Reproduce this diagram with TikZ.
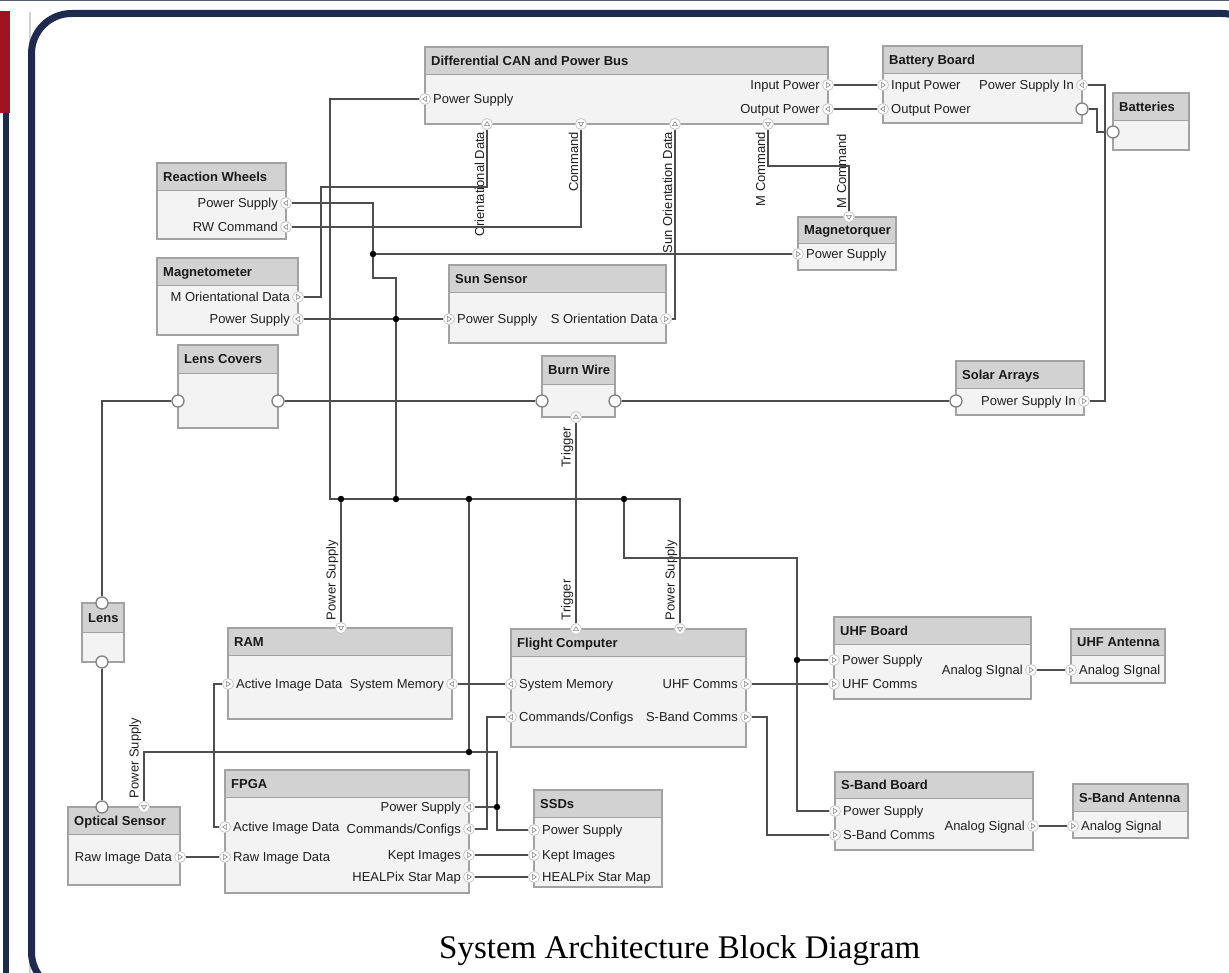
\documentclass[tikz,border=0pt]{standalone}
\usepackage{fontspec}
\setmainfont{Liberation Serif}
\newfontfamily\arial{Liberation Sans}
\usetikzlibrary{calc}

\definecolor{wire}{HTML}{4E4E4E}
\definecolor{hdr}{HTML}{D2D2D2}
\definecolor{bodyc}{HTML}{F3F3F3}
\definecolor{edgec}{HTML}{A2A2A2}
\definecolor{navy}{HTML}{1F2B4E}
\definecolor{crimson}{HTML}{9E1420}
\definecolor{portedge}{HTML}{C6C6C6}
\definecolor{tric}{HTML}{8A8A8A}
\definecolor{topline}{HTML}{56607A}

\tikzset{
  lbl/.style={font=\arial\fontsize{13}{15}\selectfont, text=black!88, inner sep=0pt},
  hdrtext/.style={font=\arial\bfseries\fontsize{13}{15}\selectfont, text=black!90, inner sep=0pt},
  vlbl/.style={lbl, rotate=90, inner sep=0.6pt},
  cn/.style={draw=wire, line width=1.4pt},
  portbase/.style={circle, draw=portedge, fill=white, line width=0.8pt, minimum size=11pt, inner sep=0pt},
  pr/.style={portbase, path picture={\draw[tric, line width=0.6pt, shift={(path picture bounding box.center)}]
      (-1.6pt,2.6pt) -- (2.4pt,0pt) -- (-1.6pt,-2.6pt) -- cycle;}},
  pl/.style={portbase, path picture={\draw[tric, line width=0.6pt, shift={(path picture bounding box.center)}]
      (1.6pt,2.6pt) -- (-2.4pt,0pt) -- (1.6pt,-2.6pt) -- cycle;}},
  pu/.style={portbase, path picture={\draw[tric, line width=0.6pt, shift={(path picture bounding box.center)}]
      (-2.6pt,-1.6pt) -- (0pt,2.4pt) -- (2.6pt,-1.6pt) -- cycle;}},
  pd/.style={portbase, path picture={\draw[tric, line width=0.6pt, shift={(path picture bounding box.center)}]
      (-2.6pt,1.6pt) -- (0pt,-2.4pt) -- (2.6pt,1.6pt) -- cycle;}},
  pc/.style={circle, draw=black!50, fill=white, line width=1.3pt, minimum size=12pt, inner sep=0pt},
  jdot/.style={circle, fill=black, minimum size=6.5pt, inner sep=0pt},
}

% block: name, x1, y1, x2, y2, header bottom, title
\newcommand\block[7]{%
  \fill[bodyc] (#2,#3) rectangle (#4,#5);
  \fill[hdr] (#2,#3) rectangle (#4,#6);
  \draw[edgec, line width=0.9pt] (#4,#6) -- (#2,#6);
  \draw[edgec, line width=1.2pt] (#2,#3) rectangle (#4,#5);
  \node[hdrtext, anchor=base west] (#1) at ({#2+6},{(#3+#6)/2+4.6}) {#7};
}
% port: style, name, x, y
\newcommand\port[4]{\node[#1] (#2) at (#3,#4) {};}
% port texts: left side / right side of a block
\newcommand\ltext[3]{\node[lbl, anchor=base west] at ({#1+8},{#2+4.6}) {#3};}
\newcommand\rtext[3]{\node[lbl, anchor=base east] at ({#1-8},{#2+4.6}) {#3};}

\begin{document}
\begin{tikzpicture}[x=1pt, y=-1pt]
\useasboundingbox (0,0) rectangle (1229,973);

% ---------- page frame ----------
\draw[topline, line width=1.5pt] (0,0.75) -- (1229,0.75);
\fill[navy] (3,113) rectangle (9,973);
\fill[crimson] (0,11) rectangle (10,113);
\draw[black!18, line width=2pt] (30,12) -- (30,973);
\draw[navy, line width=7pt, rounded corners=40pt] (31.5,13.5) rectangle (1262,992);

% ---------- blocks ----------
\block{can}{425}{47}{828}{124}{74}{Differential CAN and Power Bus}
\block{bat}{883}{46}{1082}{123}{73}{Battery Board}
\block{batt}{1113}{93}{1189}{150}{120}{Batteries}
\block{rw}{157}{163}{286}{239}{190}{Reaction Wheels}
\block{mag}{157}{258}{298}{335}{285}{Magnetometer}
\block{sun}{449}{265}{666}{343}{292}{Sun Sensor}
\block{mtq}{798}{217}{896}{270}{243}{Magnetorquer}
\block{lc}{178}{345}{278}{428}{373}{Lens Covers}
\block{bw}{542}{356}{615}{417}{384}{Burn Wire}
\block{sol}{956}{361}{1084}{415}{388}{Solar Arrays}
\block{lens}{82}{603}{124}{662}{632}{Lens}
\block{ram}{228}{628}{452}{719}{655}{RAM}
\block{fc}{511}{629}{746}{747}{656}{Flight Computer}
\block{uhf}{834}{617}{1031}{699}{644}{UHF Board}
\block{uhfa}{1071}{629}{1165}{683}{655}{UHF Antenna}
\block{sbb}{835}{772}{1033}{850}{798}{S-Band Board}
\block{sba}{1073}{784}{1188}{838}{811}{S-Band Antenna}
\block{opt}{68}{807}{180}{885}{834}{Optical Sensor}
\block{fpga}{225}{770}{469}{893}{797}{FPGA}
\block{ssd}{534}{790}{662}{887}{817}{SSDs}

% ---------- port texts ----------
\ltext{425}{99}{Power Supply}
\rtext{828}{85}{Input Power}
\rtext{828}{109}{Output Power}
\ltext{883}{85}{Input Power}
\ltext{883}{109}{Output Power}
\rtext{1082}{85}{Power Supply In}
\rtext{286}{203}{Power Supply}
\rtext{286}{227}{RW Command}
\rtext{298}{297}{M Orientational Data}
\rtext{298}{319}{Power Supply}
\ltext{449}{319}{Power Supply}
\rtext{666}{319}{S Orientation Data}
\ltext{798}{254}{Power Supply}
\rtext{1084}{401}{Power Supply In}
\ltext{228}{684}{Active Image Data}
\rtext{452}{684}{System Memory}
\ltext{511}{684}{System Memory}
\ltext{511}{717}{Commands/Configs}
\rtext{746}{684}{UHF Comms}
\rtext{746}{717}{S-Band Comms}
\ltext{834}{660}{Power Supply}
\ltext{834}{684}{UHF Comms}
\rtext{1031}{670}{Analog SIgnal}
\ltext{1071}{670}{Analog SIgnal}
\ltext{835}{811}{Power Supply}
\ltext{835}{835}{S-Band Comms}
\rtext{1033}{826}{Analog Signal}
\ltext{1073}{826}{Analog Signal}
\rtext{180}{857}{Raw Image Data}
\ltext{225}{827}{Active Image Data}
\ltext{225}{857}{Raw Image Data}
\rtext{469}{807}{Power Supply}
\rtext{469}{829}{Commands/Configs}
\rtext{469}{855}{Kept Images}
\rtext{469}{877}{HEALPix Star Map}
\ltext{534}{830}{Power Supply}
\ltext{534}{855}{Kept Images}
\ltext{534}{877}{HEALPix Star Map}

% ---------- rotated texts along the links ----------
\node[vlbl, anchor=south east] (t-od) at (485,131) {Orientational Data};
\node[vlbl, anchor=south east] (t-cmd) at (579,131) {Command};
\node[vlbl, anchor=south east] (t-sod) at (673,131) {Sun Orientation Data};
\node[vlbl, anchor=south east] (t-mc) at (766,131) {M Command};
\node[vlbl, anchor=south west] (t-mc2) at (847,209) {M Command};
\node[vlbl, anchor=south east] (t-trg) at (574,426) {Trigger};
\node[vlbl, anchor=south west] (t-trg2) at (574,621) {Trigger};
\node[vlbl, anchor=south west] (t-ps1) at (339,621) {Power Supply};
\node[vlbl, anchor=south west] (t-ps2) at (678,621) {Power Supply};
\node[vlbl, anchor=south west] (t-ps3) at (142,799) {Power Supply};

% ---------- ports (on the block edges) ----------
\port{pl}{can-ps}{425}{99}
\port{pr}{can-in}{828}{85}
\port{pl}{can-out}{828}{109}
\port{pu}{can-od}{487}{124}
\port{pd}{can-cmd}{581}{124}
\port{pu}{can-sod}{675}{124}
\port{pd}{can-mc}{768}{124}
\port{pr}{bat-in}{883}{85}
\port{pl}{bat-out}{883}{109}
\port{pl}{bat-psi}{1082}{85}
\port{pc}{bat-c}{1082}{109}
\port{pc}{batt-c}{1113}{132}
\port{pl}{rw-ps}{286}{203}
\port{pl}{rw-cmd}{286}{227}
\port{pr}{mag-od}{298}{297}
\port{pl}{mag-ps}{298}{319}
\port{pr}{sun-ps}{449}{319}
\port{pr}{sun-sod}{666}{319}
\port{pd}{mtq-mc}{849}{217}
\port{pr}{mtq-ps}{798}{254}
\port{pc}{lc-l}{178}{401}
\port{pc}{lc-r}{278}{401}
\port{pc}{bw-l}{542}{401}
\port{pc}{bw-r}{615}{401}
\port{pu}{bw-trig}{576}{417}
\port{pc}{sol-l}{956}{401}
\port{pr}{sol-psi}{1084}{401}
\port{pc}{lens-t}{102}{603}
\port{pc}{lens-b}{102}{662}
\port{pd}{ram-top}{341}{628}
\port{pr}{ram-aid}{228}{684}
\port{pl}{ram-sm}{452}{684}
\port{pu}{fc-trig}{576}{629}
\port{pd}{fc-ps}{680}{629}
\port{pl}{fc-sm}{511}{684}
\port{pl}{fc-cc}{511}{717}
\port{pr}{fc-uhf}{746}{684}
\port{pr}{fc-sb}{746}{717}
\port{pr}{uhf-ps}{834}{660}
\port{pr}{uhf-uc}{834}{684}
\port{pr}{uhf-as}{1031}{670}
\port{pr}{uhfa-as}{1071}{670}
\port{pr}{sbb-ps}{835}{811}
\port{pr}{sbb-sc}{835}{835}
\port{pr}{sbb-as}{1033}{826}
\port{pr}{sba-as}{1073}{826}
\port{pc}{opt-c}{102}{807}
\port{pd}{opt-ps}{144}{807}
\port{pr}{opt-raw}{180}{857}
\port{pl}{fpga-aid}{225}{827}
\port{pr}{fpga-raw}{225}{857}
\port{pl}{fpga-ps}{469}{807}
\port{pl}{fpga-cc}{469}{829}
\port{pr}{fpga-kept}{469}{855}
\port{pr}{fpga-heal}{469}{877}
\port{pr}{ssd-ps}{534}{830}
\port{pr}{ssd-kept}{534}{855}
\port{pr}{ssd-heal}{534}{877}

% ---------- junctions ----------
\node[jdot] (j-ram) at (341,499) {};
\node[jdot] (j-rw) at (396,499) {};
\node[jdot] (j-mid) at (469,499) {};
\node[jdot] (j-com) at (624,499) {};
\node[jdot] (j-mtq) at (373,254) {};
\node[jdot] (j-sun) at (396,319) {};
\node[jdot] (j-uhf) at (797,660) {};
\node[jdot] (j-opt) at (469,752) {};
\node[jdot] (j-fpga) at (497,807) {};

% ---------- links ----------
\draw[cn] (can-ps) -- (330,99) -- (330,499) -- (j-ram) -- (j-rw) -- (j-mid) -- (j-com) -- (680,499) -- (fc-ps);
\draw[cn] (ram-top) -- (j-ram);
\draw[cn] (rw-ps) -- (373,203) -- (j-mtq) -- (373,278) -- (396,278) -- (j-sun) -- (j-rw);
\draw[cn] (j-mtq) -- (mtq-ps);
\draw[cn] (mag-ps) -- (j-sun) -- (sun-ps);
\draw[cn] (rw-cmd) -| (can-cmd);
\draw[cn] (mag-od) -- (321,297) -- (321,187) -| (can-od);
\draw[cn] (sun-sod) -| (can-sod);
\draw[cn] (can-mc) -- (768,166) -| (mtq-mc);
\draw[cn] (can-in) -- (bat-in);
\draw[cn] (can-out) -- (bat-out);
\draw[cn] (bat-psi) -- (1105,85) |- (sol-psi);
\draw[cn] (bat-c) -- (1097,109) |- (batt-c);
\draw[cn] (lc-l) -| (lens-t);
\draw[cn] (lc-r) -- (bw-l);
\draw[cn] (bw-r) -- (sol-l);
\draw[cn] (bw-trig) -- (fc-trig);
\draw[cn] (lens-b) -- (opt-c);
\draw[cn] (j-mid) -- (j-opt);
\draw[cn] (opt-ps) |- (j-opt) -- (497,752) -- (j-fpga) |- (ssd-ps);
\draw[cn] (fpga-ps) -- (j-fpga);
\draw[cn] (fpga-cc) -- (487,829) |- (fc-cc);
\draw[cn] (ram-aid) -- (214,684) |- (fpga-aid);
\draw[cn] (ram-sm) -- (fc-sm);
\draw[cn] (fc-uhf) -- (uhf-uc);
\draw[cn] (fc-sb) -- (767,717) |- (sbb-sc);
\draw[cn] (j-com) -- (624,558) -- (797,558) -- (j-uhf) |- (sbb-ps);
\draw[cn] (j-uhf) -- (uhf-ps);
\draw[cn] (uhf-as) -- (uhfa-as);
\draw[cn] (sbb-as) -- (sba-as);
\draw[cn] (opt-raw) -- (fpga-raw);
\draw[cn] (fpga-kept) -- (ssd-kept);
\draw[cn] (fpga-heal) -- (ssd-heal);

% ---------- caption ----------
\node[font=\fontsize{33}{38}\selectfont, inner sep=0pt, anchor=base west] (title) at (439,958) {System Architecture Block Diagram};
\end{tikzpicture}
\end{document}
